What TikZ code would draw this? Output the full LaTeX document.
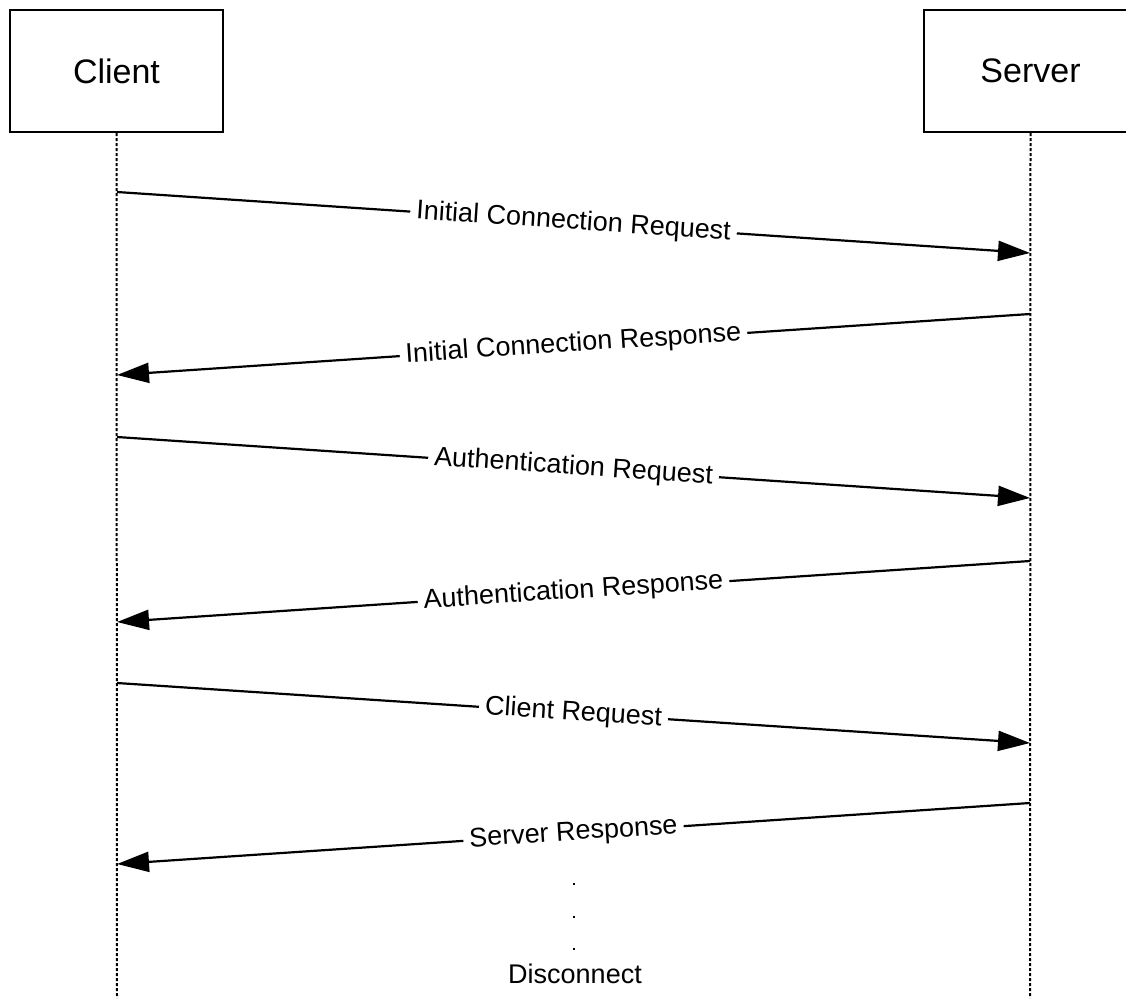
\documentclass[tikz,border=0pt]{standalone}
\usepackage{fontspec}
\setmainfont{Liberation Sans}
\usetikzlibrary{arrows.meta}
\begin{document}
\begin{tikzpicture}[x=1pt,y=-1pt,
  actor/.style={draw,line width=2pt,minimum width=213pt,minimum height=122pt,inner sep=0pt,font=\fontsize{34}{40}\selectfont},
  life/.style={line width=2pt,dash pattern=on 3pt off 2pt},
  msg/.style={line width=2.2pt,-{Triangle[length=32pt,width=20pt]}},
  lbl/.style={fill=white,sloped,inner sep=6pt,font=\fontsize{27}{30}\selectfont},
  dotmark/.style={fill=black,inner sep=0pt,minimum size=2.6pt,rectangle}]
\useasboundingbox (0,0) rectangle (1126,998);
\clip (0,0) rectangle (1126,998);
\node[actor] (client) at (116.5,71) {Client};
\node[actor] (server) at (1030.5,71) {Server};
\coordinate (cb) at (117,998);
\coordinate (sb) at (1030,998);
\draw[life] (client.south) -- (cb);
\draw[life] (server.south) -- (sb);
\coordinate (c1) at (117,192);  \coordinate (s1) at (1030,253);
\coordinate (s2) at (1030,314); \coordinate (c2) at (117,375);
\coordinate (c3) at (117,437);  \coordinate (s3) at (1030,498);
\coordinate (s4) at (1030,561); \coordinate (c4) at (117,622);
\coordinate (c5) at (117,683);  \coordinate (s5) at (1030,743);
\coordinate (s6) at (1030,803); \coordinate (c6) at (117,864);
\draw[msg] (c1) -- node[lbl] {Initial Connection Request} (s1);
\draw[msg] (s2) -- node[lbl] {Initial Connection Response} (c2);
\draw[msg] (c3) -- node[lbl] {Authentication Request} (s3);
\draw[msg] (s4) -- node[lbl] {Authentication Response} (c4);
\draw[msg] (c5) -- node[lbl] {Client Request} (s5);
\draw[msg] (s6) -- node[lbl] {Server Response} (c6);
\node[dotmark] (d1) at (574,884) {};
\node[dotmark] (d2) at (574,917) {};
\node[dotmark] (d3) at (574,949) {};
\node[font=\fontsize{27}{30}\selectfont] (disc) at (575,974) {Disconnect};
\end{tikzpicture}
\end{document}
